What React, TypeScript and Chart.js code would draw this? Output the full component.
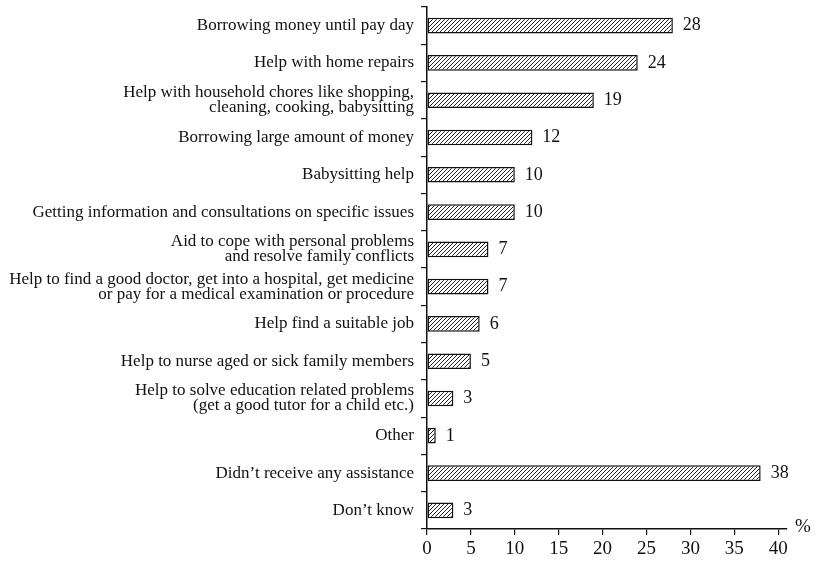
import React, { useEffect, useRef } from "react";
import { Chart, registerables } from "chart.js";

Chart.register(...registerables);

const categories: (string | string[])[] = [
  "Borrowing money until pay day",
  "Help with home repairs",
  ["Help with household chores like shopping,", "cleaning, cooking, babysitting"],
  "Borrowing large amount of money",
  "Babysitting help",
  "Getting information and consultations on specific issues",
  ["Aid to cope with personal problems", "and resolve family conflicts"],
  ["Help to find a good doctor, get into a hospital, get medicine", "or pay for a medical examination or procedure"],
  "Help find a suitable job",
  "Help to nurse aged or sick family members",
  ["Help to solve education related problems", "(get a good tutor for a child etc.)"],
  "Other",
  "Didn\u2019t receive any assistance",
  "Don\u2019t know",
];

const values: number[] = [28, 24, 19, 12, 10, 10, 7, 7, 6, 5, 3, 1, 38, 3];

const xTicks: number[] = [0, 5, 10, 15, 20, 25, 30, 35, 40];
const unitLabel = "%";

const FONT = "'Liberation Serif', 'Times New Roman', serif";

function makeHatch(): CanvasPattern | string {
  const size = 4;
  const c = document.createElement("canvas");
  c.width = size;
  c.height = size;
  const g = c.getContext("2d");
  if (!g) return "#fff";
  g.fillStyle = "#ffffff";
  g.fillRect(0, 0, size, size);
  g.strokeStyle = "#222";
  g.lineWidth = 1;
  g.beginPath();
  g.moveTo(-1, size + 1);
  g.lineTo(size + 1, -1);
  g.moveTo(-1, 1);
  g.lineTo(1, -1);
  g.moveTo(size - 1, size + 1);
  g.lineTo(size + 1, size - 1);
  g.stroke();
  const p = g.createPattern(c, "repeat");
  return p || "#fff";
}

export default function App() {
  const ref = useRef<HTMLCanvasElement | null>(null);

  useEffect(() => {
    document.body.style.margin = "0";
    const canvas = ref.current;
    if (!canvas) return;
    const hatch = makeHatch();

    const valueLabels = {
      id: "valueLabels",
      afterDatasetsDraw(chart: any) {
        const ctx = chart.ctx;
        const meta = chart.getDatasetMeta(0);
        ctx.save();
        ctx.font = `18px ${FONT}`;
        ctx.fillStyle = "#111";
        ctx.textBaseline = "middle";
        ctx.textAlign = "left";
        meta.data.forEach((bar: any, i: number) => {
          ctx.fillText(String(values[i]), bar.x + 10, bar.y);
        });
        const xs = chart.scales.x;
        ctx.font = `19px ${FONT}`;
        ctx.fillText(unitLabel, xs.right + 8, xs.top - 2);
        ctx.restore();
      },
    };

    const chart = new Chart(canvas, {
      type: "bar",
      data: {
        labels: categories,
        datasets: [
          {
            data: values,
            backgroundColor: hatch as any,
            borderColor: "#111",
            borderWidth: 1.5,
            borderSkipped: false,
            barPercentage: 0.42,
            categoryPercentage: 1,
          },
        ],
      },
      options: {
        indexAxis: "y",
        animation: false,
        responsive: false,
        maintainAspectRatio: false,
        layout: { padding: { top: 7, right: 29, bottom: 0, left: 0 } },
        plugins: {
          legend: { display: false },
          tooltip: { enabled: false },
        },
        scales: {
          x: {
            min: 0,
            max: 41,
            afterBuildTicks(scale: any) {
              scale.ticks = xTicks.map((v) => ({ value: v }));
            },
            afterFit(scale: any) {
              scale.height = 34;
            },
            border: { display: true, color: "#111", width: 1.5 },
            grid: {
              display: true,
              drawOnChartArea: false,
              drawTicks: true,
              tickLength: 6,
              color: "#111",
              lineWidth: 1.2,
            },
            ticks: {
              color: "#111",
              padding: 3,
              font: { family: FONT, size: 19 },
              maxRotation: 0,
            },
          },
          y: {
            afterFit(scale: any) {
              scale.width = 427;
              scale.paddingTop = 0;
              scale.paddingBottom = 0;
            },
            border: { display: true, color: "#111", width: 1.5 },
            grid: {
              display: true,
              offset: true,
              drawOnChartArea: false,
              drawTicks: true,
              tickLength: 6,
              color: "#111",
              lineWidth: 1.2,
            },
            ticks: {
              color: "#111",
              padding: 7,
              font: { family: FONT, size: 17, lineHeight: 0.88 },
              autoSkip: false,
            },
          },
        },
      },
      plugins: [valueLabels],
    });

    return () => chart.destroy();
  }, []);

  return (
    <div style={{ width: 816, height: 563, background: "#fff" }}>
      <canvas ref={ref} width={816} height={563} style={{ display: "block" }} />
    </div>
  );
}
